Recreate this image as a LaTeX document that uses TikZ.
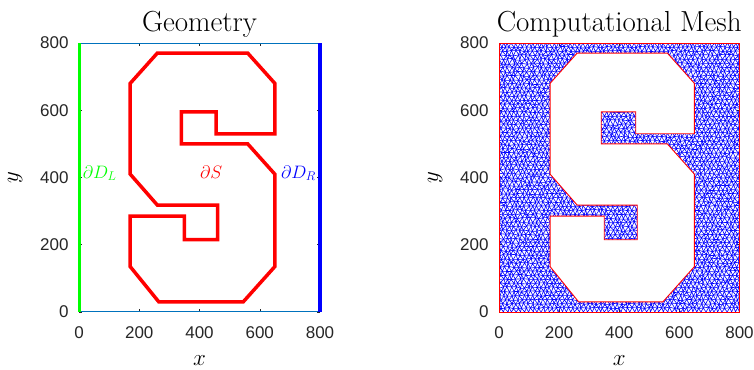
\documentclass[tikz,border=0pt]{standalone}
\usepackage{fix-cm}
\usepackage{fontspec}
\newfontfamily\ticksfont{Liberation Sans}
\definecolor{axgray}{rgb}{0.15,0.15,0.15}
\definecolor{mblue}{rgb}{0,0.447,0.741}
% corners of the S outline, data units
\def\Slist{260/770,560/770,650/680,650/530,455/530,455/595,340/595,340/500,560/500,650/410,650/135,545/30,265/30,170/135,170/285,350/285,350/215,460/215,460/318,260/318,170/410,170/680}
\begin{document}
\begin{tikzpicture}[x=1pt,y=1pt]
	\tikzset{
		tick/.style={axgray,line width=0.5pt},
		ticklab/.style={font=\ticksfont\fontsize{17}{17}\selectfont,text=axgray,inner sep=0pt},
		ttl/.style={font=\fontsize{29}{31}\selectfont,inner sep=0pt,anchor=base},
		axlab/.style={font=\fontsize{23}{23}\selectfont,inner sep=0pt},
		bnd/.style={font=\fontsize{18}{18}\selectfont,inner sep=0pt,anchor=base west},
		meshline/.style={blue,line width=0.6pt},
		axes/.pic={
			\foreach \t in {0,200,...,800}{
				\draw[tick] (\t,0)--++(0,8) (\t,800)--++(0,-8) (0,\t)--++(9,0) (800,\t)--++(-9,0);
				\node[ticklab] (-x\t) at (\t,-62) {\t};
				\node[ticklab,anchor=east] (-y\t) at (-34,\t) {\t};
			}
			\node[axlab] (-xl) at (400,-143) {$x$};
			\node[axlab,rotate=90] (-yl) at (-212,400) {$y$};
		}
	}
	\useasboundingbox (0,0) rectangle (754,369);
	% geometry
	\begin{scope}[shift={(79,57)},x=0.30125pt,y=0.33625pt]
		\pic (L) at (0,0) {axes};
		\foreach[count=\n] \x/\y in \Slist
		\coordinate (sL\n) at (\x,\y);
		\draw[mblue,line width=1pt] (0,0)--(800,0) (0,800)--(800,800);
		\draw[green,line width=3pt] (0,0)--(0,800);
		\draw[blue,line width=3.2pt] (800,0)--(800,800);
		\draw[red,line width=3.5pt] (sL1)\foreach \n in {2,...,22}{--(sL\n)}--cycle;
		\node[bnd,text=green] (dL) at (12,398) {$\partial D_L$};
		\node[bnd,text=red] (dS) at (401,398) {$\partial S$};
		\node[bnd,text=blue] (dR) at (670,398) {$\partial D_R$};
		\node[ttl] (Lt) at (400,834) {Geometry};
	\end{scope}
	% mesh
	\begin{scope}[shift={(499,57)},x=0.3006pt,y=0.33625pt]
		\pic (R) at (0,0) {axes};
		\foreach[count=\n] \x/\y in \Slist
		\coordinate (sR\n) at (\x,\y);
		\pgfmathsetseed{7}
		\foreach \j in {0,...,66}{
			\foreach \i in {-1,...,58}{
				\pgfmathsetmacro\mx{\i*14.035+mod(\j,2)*7.02+3.2*rand}
				\pgfmathsetmacro\my{\j*12.1212+(\j>0)*(\j<66)*2.8*rand}
				\coordinate (m\i-\j) at (\mx,\my);
			}
		}
		\begin{scope}
			\clip (0,0) rectangle (800,800);
			\foreach \j in {0,...,66}
			\draw[meshline] (m-1-\j)\foreach \i in {0,...,58}{--(m\i-\j)};
			\foreach \j [evaluate=\j as \k using int(\j+1)] in {0,...,65}{
				\ifodd\j\relax\def\ra{\k}\def\rb{\j}\else\def\ra{\j}\def\rb{\k}\fi
				\draw[meshline] (m-1-\ra)--(m-1-\rb)\foreach \i in {0,...,58}{--(m\i-\ra)--(m\i-\rb)};
			}
		\end{scope}
		\fill[white] (sR1)\foreach \n in {2,...,22}{--(sR\n)}--cycle;
		\draw[red,line width=0.9pt] (sR1)\foreach \n in {2,...,22}{--(sR\n)}--cycle;
		\draw[red,line width=0.9pt] (0,0) rectangle (800,800);
		\node[ttl] (Rt) at (400,834) {Computational Mesh};
	\end{scope}
\end{tikzpicture}
\end{document}
